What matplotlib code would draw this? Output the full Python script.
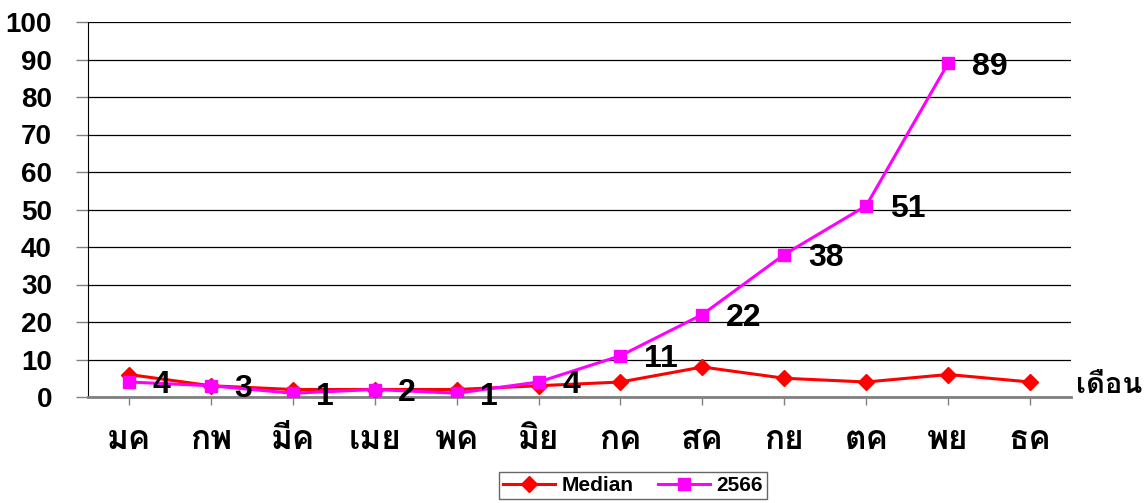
import numpy as np
import matplotlib
matplotlib.use("Agg")
import matplotlib.pyplot as plt
from matplotlib import font_manager as fm

# data
months = ["มค", "กพ", "มีค", "เมย", "พค", "มิย", "กค", "สค", "กย", "ตค", "พย", "ธค"]
median = [6, 3, 2, 2, 2, 3, 4, 8, 5, 4, 6, 4]
y2566 = [4, 3, 1, 2, 1, 4, 11, 22, 38, 51, 89]


def thai_bold():
    # first Thai family that really ships a bold face
    for name in ("Noto Sans Thai Looped", "Loma", "Noto Sans Thai", "IBM Plex Sans Thai Looped", "Sarabun"):
        if any(f.name == name and int(f.weight) >= 700 for f in fm.fontManager.ttflist):
            return name
    return "DejaVu Sans"


THAI = [thai_bold(), "DejaVu Sans"]
LAT = ["Liberation Sans", "DejaVu Sans"]

fig = plt.figure(figsize=(11.48, 5.03), dpi=100)
ax = fig.add_axes([88/1148, 1-397/503, (1071-88)/1148, (397-22)/503])

x = np.arange(len(months))
ax.plot(x, median, color="#ff0000", lw=2.2, marker="D", ms=8, zorder=4, label="Median")
x2 = np.arange(len(y2566))
ax.plot(x2, y2566, color="#ff00ff", lw=2.2, marker="s", ms=9, zorder=5, label="2566")

for xi, v in zip(x2, y2566):
    ax.annotate(str(v), (xi, v), xytext=(17, -2.5), textcoords="offset points",
                ha="left", va="center", fontsize=23, fontweight="bold", family=LAT, zorder=6)

ax.set_xlim(-0.5, len(months) - 0.5)
ax.set_ylim(0, 100)
ax.set_yticks(np.arange(0, 101, 10))
ax.set_yticklabels([str(v) for v in range(0, 101, 10)], fontsize=20, fontweight="bold", family=LAT)
ax.set_xticks(x)
ax.set_xticklabels(months, fontsize=24, fontweight="bold", family=THAI)
ax.tick_params(axis="x", length=6, width=1, color="#808080", pad=14)
ax.tick_params(axis="y", length=9, width=1, color="#808080", pad=17)
ax.grid(axis="y", color="#000000", lw=0.9)
ax.set_axisbelow(True)
for s in ("top", "right"):
    ax.spines[s].set_visible(False)
ax.spines["left"].set_color("#000000")
ax.spines["bottom"].set_color("#808080")
ax.spines["bottom"].set_linewidth(2)

fig.text(1076/1148, 1-385/503, "เดือน", fontsize=21, fontweight="bold", family=THAI,
         ha="left", va="center")

leg = fig.legend(loc="upper center", bbox_to_anchor=(633/1148, 1-472/503), ncol=2, frameon=True,
                 fancybox=False, edgecolor="#404040", prop={"family": LAT, "weight": "bold", "size": 15},
                 handlelength=2.5, columnspacing=1.2, handletextpad=0.3, borderpad=0.2,
                 borderaxespad=0)
leg.get_frame().set_linewidth(1)

fig.savefig("out.png", dpi=100)
